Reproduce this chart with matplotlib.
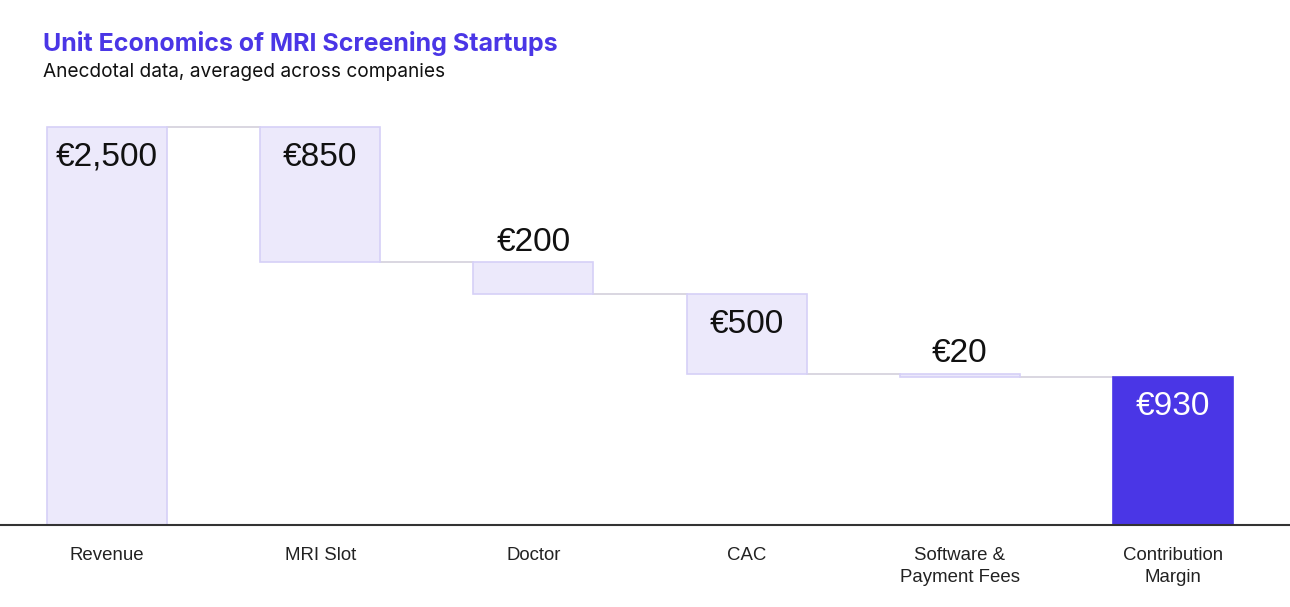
import matplotlib.pyplot as plt
import numpy as np

categories = ["Revenue", "MRI Slot", "Doctor", "CAC", "Software &\nPayment Fees", "Contribution\nMargin"]
values = [2500, -850, -200, -500, -20, 930]
labels = ["€2,500", "€850", "€200", "€500", "€20", "€930"]

light = "#ece9fb"
light_edge = "#d6d0f7"
accent = "#4a36e6"

# waterfall bottoms / heights
bottoms = []
heights = []
level = 0
for i, v in enumerate(values):
    if i == 0 or i == len(values) - 1:
        bottoms.append(0)
        heights.append(abs(v))
        level = abs(v)
    else:
        level_new = level + v
        bottoms.append(level_new)
        heights.append(-v)
        level = level_new
tops = [b + h for b, h in zip(bottoms, heights)]

fig = plt.figure(figsize=(12.9, 6.07), dpi=100)
ax = fig.add_axes([0.0, (607 - 525) / 607, 1.0, (525 - 100) / 607])

x = np.arange(len(categories))
width = 0.563
colors = [light] * (len(values) - 1) + [accent]
edges = [light_edge] * (len(values) - 1) + [accent]
ax.bar(x, heights, width, bottom=bottoms, color=colors, edgecolor=edges, linewidth=1.2, zorder=2)

# connectors
levels = [tops[0]] + [bottoms[i] for i in range(1, len(values) - 1)]
for i, lv in enumerate(levels):
    ax.plot([x[i] + width / 2, x[i + 1] - width / 2], [lv, lv], color="#d3d0dc", lw=1.2, zorder=1)

ymax = 2500 * 425 / 398
ax.set_ylim(0, ymax)
ax.set_xlim(-107 / 213.2, (1290 - 107) / 213.2)

px = ymax / 425  # data units per pixel
for i in range(len(values)):
    if heights[i] / px < 60:
        ax.text(x[i], tops[i] + 20 * px, labels[i], ha="center", va="center",
                fontsize=24, family="Liberation Sans", color="#111111")
    else:
        ax.text(x[i], tops[i] - 30 * px, labels[i], ha="center", va="center",
                fontsize=24, family="Liberation Sans",
                color="white" if i == len(values) - 1 else "#111111")

for s in ["top", "right", "left"]:
    ax.spines[s].set_visible(False)
ax.spines["bottom"].set_color("#333333")
ax.spines["bottom"].set_linewidth(1.5)
ax.set_yticks([])
ax.set_xticks(x)
ax.set_xticklabels(categories, fontsize=13.4, family="Liberation Sans", color="#222222", linespacing=1.35)
ax.tick_params(axis="x", length=0, pad=16)
for t in ax.get_xticklabels():
    t.set_verticalalignment("top")

fig.text(43 / 1290, 1 - 44 / 607, "Unit Economics of MRI Screening Startups", fontsize=18,
         fontweight="bold", family="Inter", color="#4a36e6", va="center", ha="left")
fig.text(43 / 1290, 1 - 72 / 607, "Anecdotal data, averaged across companies", fontsize=13.75,
         family="Inter", color="#111111", va="center", ha="left")

fig.savefig("out.png", dpi=100)
